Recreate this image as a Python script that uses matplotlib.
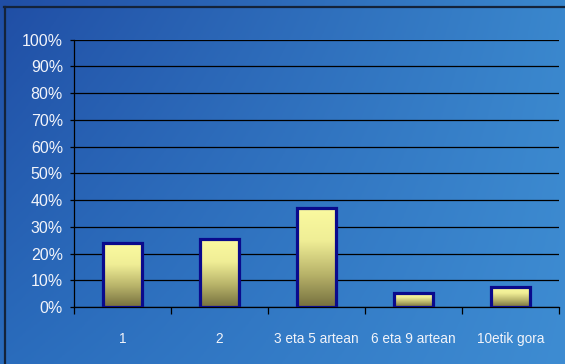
import numpy as np
import matplotlib
matplotlib.use("Agg")
import matplotlib.pyplot as plt
from matplotlib.colors import LinearSegmentedColormap
from matplotlib.ticker import FixedLocator, PercentFormatter

categories = ["1", "2", "3 eta 5 artean", "6 eta 9 artean", "10etik gora"]
values = [0.238, 0.254, 0.370, 0.053, 0.076]
y_ticks = [0.0, 0.1, 0.2, 0.3, 0.4, 0.5, 0.6, 0.7, 0.8, 0.9, 1.0]

W, H = 565, 364
fig = plt.figure(figsize=(W / 100, H / 100), dpi=100)

# background gradient
bg = fig.add_axes([0, 0, 1, 1], zorder=-10)
bg.set_axis_off()
tl = np.array([32, 78, 165]) / 255
tr = np.array([58, 135, 205]) / 255
bl = np.array([42, 108, 188]) / 255
br = np.array([62, 140, 210]) / 255
xx = np.linspace(0, 1, 200)[None, :, None]
yy = np.linspace(0, 1, 120)[:, None, None]
img = (1 - yy) * ((1 - xx) * tl + xx * tr) + yy * ((1 - xx) * bl + xx * br)
bg.imshow(np.clip(img, 0, 1), aspect="auto", extent=[0, 1, 0, 1], origin="upper")
bg.set_xlim(0, 1)
bg.set_ylim(0, 1)
# frame lines top and left
bg.plot([4 / W, 1], [1 - 6.5 / H, 1 - 6.5 / H], color="#14233a", lw=1.6)
bg.plot([4.5 / W, 4.5 / W], [0, 1 - 6.5 / H], color="#14233a", lw=1.6)

ax = fig.add_axes([74 / W, 1 - 307.2 / H, (559 - 74) / W, (307.2 - 39.5) / H])
ax.patch.set_alpha(0)
n = len(categories)
x = np.arange(n)
ax.set_xlim(-0.5, n - 0.5)
ax.set_ylim(0, 1)

bars = ax.bar(x, values, width=0.40, facecolor="none", edgecolor="#0a0a8c",
              linewidth=2.3, zorder=4)

cmap = LinearSegmentedColormap.from_list("bar", ["#76703f", "#b9b46a", "#f0ee96", "#fbfaa0"])
grad = np.linspace(0, 1, 256)[:, None]
for b in bars:
    x0, w, h = b.get_x(), b.get_width(), b.get_height()
    ax.imshow(grad, cmap=cmap, aspect="auto", origin="lower",
              extent=[x0, x0 + w, 0, h], zorder=3)
ax.set_xlim(-0.5, n - 0.5)
ax.set_ylim(0, 1)

ax.yaxis.set_major_locator(FixedLocator(y_ticks))
ax.yaxis.set_major_formatter(PercentFormatter(1.0, decimals=0))
ax.grid(axis="y", color="black", linewidth=0.9, zorder=1)
ax.set_axisbelow(True)

ax.set_xticks(x)
ax.set_xticklabels(categories)
ax.set_xticks(np.arange(n + 1) - 0.5, minor=True)
ax.tick_params(axis="x", which="major", length=0, pad=18, labelcolor="#f2f4fa")
ax.tick_params(axis="x", which="minor", length=5, width=0.9, color="black")
ax.tick_params(axis="y", length=3, width=0.9, color="black", pad=5, labelcolor="#f2f4fa",
               labelsize=11.5)
for lab in ax.get_xticklabels():
    lab.set_fontfamily(["Liberation Sans", "DejaVu Sans"])
    lab.set_fontsize(9.8)
for lab in ax.get_yticklabels():
    lab.set_fontfamily(["Liberation Sans", "DejaVu Sans"])

for s in ["top", "right"]:
    ax.spines[s].set_visible(False)
ax.spines["left"].set_color("black")
ax.spines["left"].set_linewidth(0.9)
ax.spines["bottom"].set_color("black")
ax.spines["bottom"].set_linewidth(0.9)

fig.savefig("out.png", dpi=100)
